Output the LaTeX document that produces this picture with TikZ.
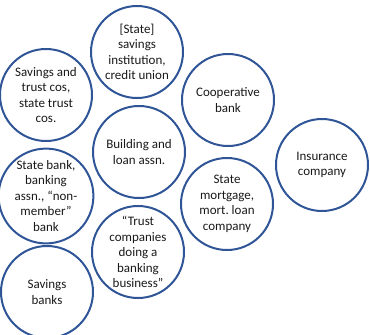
\documentclass[tikz,border=0pt]{standalone}
\usepackage{fontspec}
\setmainfont{Carlito}
\definecolor{ringblue}{RGB}{47,85,151}
\definecolor{txt}{RGB}{25,25,25}
\begin{document}
\frenchspacing
\begin{tikzpicture}[x=1pt,y=-1pt,
  bubble/.style={circle,draw=ringblue,line width=2pt,minimum size=92pt,inner sep=0pt,
    align=center,text=txt,font=\fontsize{13}{15.5}\selectfont}]
\useasboundingbox (0,0) rectangle (370,335);
\node[bubble] (a) at (137,52) {[State]\\savings\\institution,\\credit union};
\node[bubble] (b) at (46,95) {Savings and\\trust cos,\\state trust\\cos.};
\node[bubble] (c) at (228,100) {Cooperative\\bank};
\node[bubble] (d) at (322,165) {Insurance\\company};
\node[bubble] (e) at (139,152) {Building and\\loan assn.};
\node[bubble] (f) at (46,196) {State bank,\\banking\\assn., “non-\\member”\\bank};
\node[bubble] (g) at (227,204) {State\\mortgage,\\mort. loan\\company};
\node[bubble] (h) at (138,252) {“Trust\\companies\\doing a\\banking\\business”};
\node[bubble] (i) at (47,292) {Savings\\banks};
\end{tikzpicture}
\end{document}
